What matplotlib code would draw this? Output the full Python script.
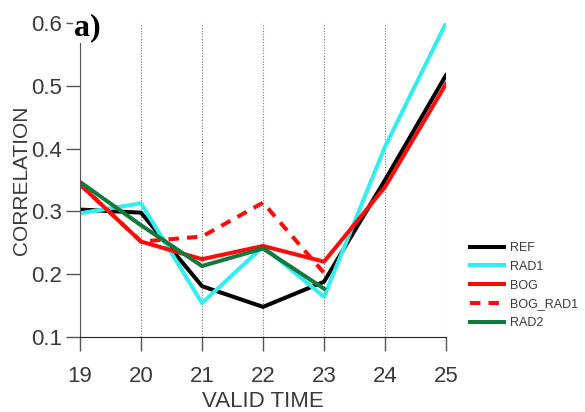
import matplotlib
matplotlib.use("Agg")
import matplotlib.pyplot as plt

# Values
valid_time = [19, 20, 21, 22, 23, 24, 25]
ref = [0.303, 0.298, 0.181, 0.148, 0.188, 0.350, 0.517]
rad1 = [0.297, 0.313, 0.154, 0.244, 0.164, 0.403, 0.600]
bog = [0.343, 0.252, 0.224, 0.245, 0.220, 0.339, 0.503]
bog_rad1_time = [19, 20, 21, 22, 23]
bog_rad1 = [0.343, 0.252, 0.260, 0.314, 0.202]
rad2_time = [19, 20, 21, 22, 23]
rad2 = [0.347, 0.278, 0.213, 0.241, 0.177]

y_ticks = [0.1, 0.2, 0.3, 0.4, 0.5, 0.6]

COLORS = {
    "ref": "#000000",
    "rad1": "#33EEEE",
    "bog": "#FF0A0A",
    "rad2": "#0F7A3C",
    "axis": "#555555",
    "grid": "#777777",
    "text": "#3A3A3A",
}

plt.rcParams["font.family"] = ["Liberation Sans", "DejaVu Sans"]

fig = plt.figure(figsize=(5.85, 4.12), dpi=100)
ax = fig.add_axes([0.1368, 0.182, 0.6256, 0.762])

lw = 2.9
ax.plot(valid_time, ref, color=COLORS["ref"], lw=lw, label="REF")
ax.plot(valid_time, rad1, color=COLORS["rad1"], lw=lw, label="RAD1")
ax.plot(valid_time, bog, color=COLORS["bog"], lw=lw, label="BOG")
ax.plot(bog_rad1_time, bog_rad1, color=COLORS["bog"], lw=lw, ls=(0, (2.6, 2.0)),
        label="BOG_RAD1")
ax.plot(rad2_time, rad2, color=COLORS["rad2"], lw=lw, label="RAD2")

ax.set_xlim(19, 25)
ax.set_ylim(0.1, 0.6)
ax.set_xticks(valid_time)
ax.set_yticks(y_ticks)
ax.set_yticklabels([f"{v:.1f}" for v in y_ticks])

ax.grid(axis="x", color=COLORS["grid"], ls=(0, (1, 1.5)), lw=0.8)
ax.spines["top"].set_visible(False)
ax.spines["right"].set_visible(False)
ax.spines["left"].set_color(COLORS["axis"])
ax.spines["bottom"].set_color("#222222")
ax.tick_params(direction="out", length=10, width=1, color=COLORS["axis"],
               labelsize=16, labelcolor=COLORS["text"])
ax.tick_params(axis="y", pad=3)
ax.tick_params(axis="x", pad=11)

ax.set_xlabel("VALID TIME", fontsize=16, color=COLORS["text"], labelpad=3)
ax.set_ylabel("CORRELATION", fontsize=15, color=COLORS["text"], labelpad=0)

ax.text(0.02, 0.985, "a)", transform=ax.transAxes, ha="center", va="center",
        fontsize=23, fontweight="bold", family="Liberation Serif",
        bbox=dict(facecolor="white", edgecolor="none", pad=0.5), zorder=10)

leg = fig.legend(loc="upper left", bbox_to_anchor=(0.795, 0.425),
                 frameon=False, fontsize=9, handlelength=2.7,
                 labelspacing=0.55, handletextpad=0.5, borderaxespad=0)
for t in leg.get_texts():
    t.set_color(COLORS["text"])

fig.savefig("out.png", dpi=100)
